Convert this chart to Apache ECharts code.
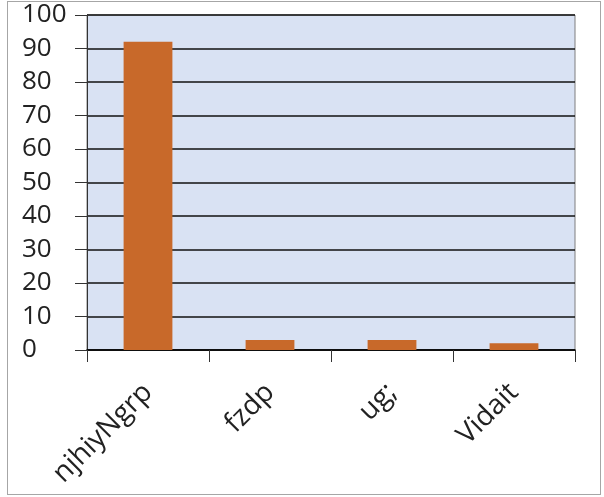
<!DOCTYPE html>
<html><head><meta charset="utf-8">
<script src="https://cdn.jsdelivr.net/npm/echarts@6/dist/echarts.min.js"></script>
<style>html,body{margin:0;padding:0;background:#fff}#c{width:604px;height:497px}
#frame{position:absolute;left:7px;top:1px;width:594px;height:494px;border:1px solid #a6a6a6;box-sizing:border-box;pointer-events:none}</style>
</head><body><div id="c"></div><div id="frame"></div>
<script>
var categories = ['njhiyNgrp', 'fzdp', 'ug;', 'Vidait'];
var values = [92, 3, 3, 2];
var yTicks = [0, 10, 20, 30, 40, 50, 60, 70, 80, 90, 100];
var chart = echarts.init(document.getElementById('c'));
chart.setOption({
  animation: false,
  grid: {left: 87, right: 29, top: 15, bottom: 147, show: true, backgroundColor: '#d9e2f3', borderColor: '#7f7f7f', borderWidth: 1},
  xAxis: {
    type: 'category', data: categories,
    axisLine: {lineStyle: {color: '#000', width: 1.5}},
    axisTick: {show: true, length: 12, lineStyle: {color: '#333'}},
    axisLabel: {rotate: 45, fontSize: 28, color: '#222', fontFamily: 'Open Sans, DejaVu Sans, sans-serif', margin: 38}
  },
  yAxis: {
    type: 'value', min: 0, max: 100, interval: 10,
    axisLine: {show: true, lineStyle: {color: '#333'}},
    axisTick: {show: true, length: 12, lineStyle: {color: '#333'}},
    splitLine: {lineStyle: {color: '#111', width: 1.5}},
    axisLabel: {fontSize: 26, color: '#222', fontFamily: 'Open Sans, DejaVu Sans, sans-serif', margin: 65, align: 'left',
      formatter: function(v){ return yTicks.indexOf(v) >= 0 ? String(v) : ''; }}
  },
  series: [{type: 'bar', data: values, barWidth: '40%', itemStyle: {color: '#c8692a'}}]
});
</script></body></html>
